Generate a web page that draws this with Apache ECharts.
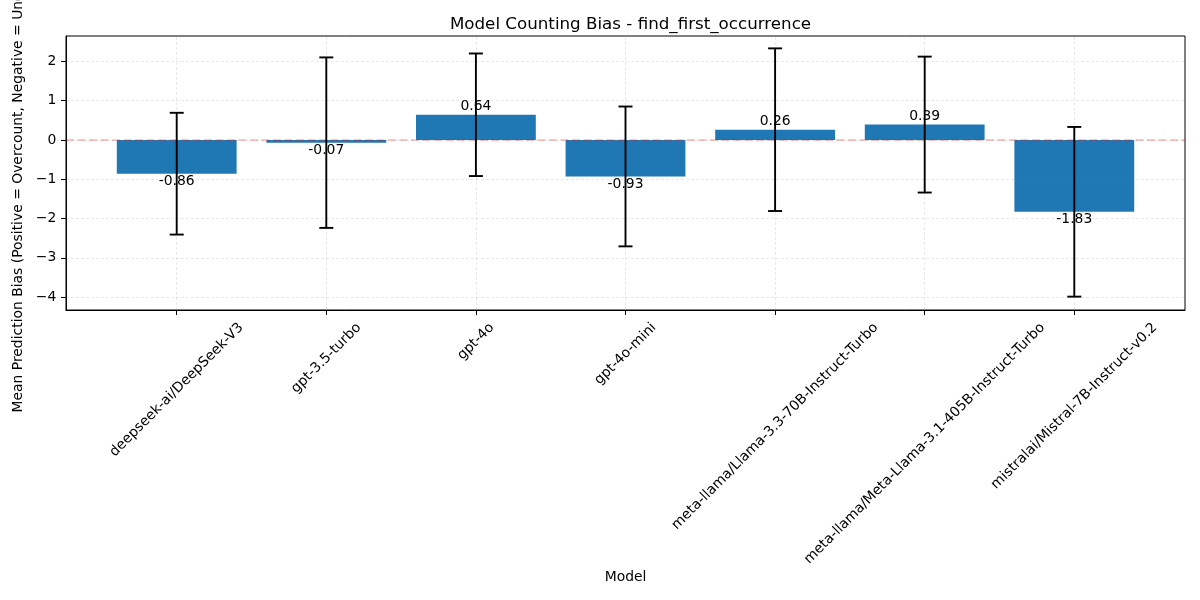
<!DOCTYPE html>
<html>
<head>
<meta charset="utf-8">
<script src="https://cdn.jsdelivr.net/npm/echarts@6/dist/echarts.min.js"></script>
<style>html,body{margin:0;padding:0;background:#fff;}#chart{width:1200px;height:600px;}</style>
</head>
<body>
<div id="chart"></div>
<script>
const categories = [
  'deepseek-ai/DeepSeek-V3',
  'gpt-3.5-turbo',
  'gpt-4o',
  'gpt-4o-mini',
  'meta-llama/Llama-3.3-70B-Instruct-Turbo',
  'meta-llama/Meta-Llama-3.1-405B-Instruct-Turbo',
  'mistralai/Mistral-7B-Instruct-v0.2'
];
const means = [-0.86, -0.07, 0.64, -0.93, 0.26, 0.39, -1.83];
const stds = [1.55, 2.17, 1.56, 1.78, 2.07, 1.73, 2.16];
const yTicks = [-4, -3, -2, -1, 0, 1, 2];
const xTicks = categories.map((c, i) => i);

const FONT = '"DejaVu Sans", sans-serif';
const X_MIN = -0.74, X_MAX = 6.74;
const Y_MIN = -4.33, Y_MAX = 2.645;
const TICK_FS = 13.9;

const measureCtx = document.createElement('canvas').getContext('2d');
measureCtx.font = TICK_FS + 'px ' + FONT;
function textWidth(t) { return measureCtx.measureText(t).width; }

const chart = echarts.init(document.getElementById('chart'), null, {renderer: 'canvas'});

const gridLineStyle = {color: 'rgba(128,128,128,0.22)', width: 0.8, type: [3, 2]};

const option = {
  animation: false,
  backgroundColor: '#fff',
  title: {
    text: 'Model Counting Bias - find_first_occurrence',
    left: 625.5,
    textAlign: 'center',
    top: 11,
    textStyle: {fontFamily: FONT, fontSize: 16.7, fontWeight: 'normal', color: '#000'}
  },
  grid: {
    left: 66, right: 15, top: 36, bottom: 290,
    show: true, borderColor: '#000', borderWidth: 1, backgroundColor: 'transparent',
    containLabel: false,
    outerBoundsMode: 'none'
  },
  xAxis: {
    type: 'value',
    min: X_MIN, max: X_MAX,
    name: 'Model',
    nameLocation: 'middle',
    nameGap: 260,
    nameTextStyle: {fontFamily: FONT, fontSize: TICK_FS, color: '#000', verticalAlign: 'top'},
    axisLine: {show: true, onZero: false, lineStyle: {color: '#000', width: 1}},
    axisTick: {show: true, length: 5, inside: false, customValues: xTicks, lineStyle: {color: '#000', width: 1}},
    axisLabel: {show: false},
    splitLine: {show: false}
  },
  yAxis: {
    type: 'value',
    min: Y_MIN, max: Y_MAX,
    name: 'Mean Prediction Bias (Positive = Overcount, Negative = Undercount)',
    nameLocation: 'middle',
    nameGap: 38,
    nameTextStyle: {fontFamily: FONT, fontSize: TICK_FS, color: '#000'},
    axisLine: {show: true, onZero: false, lineStyle: {color: '#000', width: 1}},
    axisTick: {show: true, length: 5, inside: false, customValues: yTicks, lineStyle: {color: '#000', width: 1}},
    axisLabel: {
      show: true, customValues: yTicks, margin: 9.7,
      fontFamily: FONT, fontSize: TICK_FS, color: '#000',
      formatter: v => (v < 0 ? '\u2212' + Math.abs(v) : String(v))
    },
    splitLine: {show: false}
  },
  series: [
    {
      type: 'bar',
      z: 2,
      barWidth: 119.8,
      itemStyle: {color: '#1f77b4'},
      data: categories.map((c, i) => [i, means[i]])
    },
    {
      type: 'line',
      z: 10,
      data: [],
      silent: true,
      markLine: {
        silent: true,
        symbol: 'none',
        label: {show: false},
        animation: false,
        lineStyle: gridLineStyle,
        data: xTicks.map(v => ({xAxis: v})).concat(yTicks.map(v => ({yAxis: v})))
      }
    },
    {
      type: 'line',
      z: 11,
      data: [],
      silent: true,
      markLine: {
        silent: true,
        symbol: 'none',
        label: {show: false},
        animation: false,
        lineStyle: {color: 'rgba(255,0,0,0.3)', width: 1.5, type: [8, 3.5]},
        data: [{yAxis: 0}]
      }
    },
    {
      type: 'custom',
      z: 20,
      clip: false,
      data: categories.map((c, i) => [i, means[i], stds[i]]),
      renderItem: function (params, api) {
        const i = api.value(0), m = api.value(1), s = api.value(2);
        const top = api.coord([i, m + s]);
        const bot = api.coord([i, m - s]);
        const cap = 7;
        const ls = {stroke: '#000', lineWidth: 1.9};
        return {
          type: 'group',
          children: [
            {type: 'line', shape: {x1: top[0], y1: top[1], x2: bot[0], y2: bot[1]}, style: ls},
            {type: 'line', shape: {x1: top[0] - cap, y1: top[1], x2: top[0] + cap, y2: top[1]}, style: ls},
            {type: 'line', shape: {x1: bot[0] - cap, y1: bot[1], x2: bot[0] + cap, y2: bot[1]}, style: ls}
          ]
        };
      }
    },
    {
      type: 'custom',
      z: 21,
      clip: false,
      data: categories.map((c, i) => [i, means[i]]),
      renderItem: function (params, api) {
        const i = api.value(0), m = api.value(1);
        const p = api.coord([i, m]);
        return {
          type: 'text',
          x: p[0], y: p[1] + (m >= 0 ? -1 : 1),
          style: {
            text: m.toFixed(2),
            align: 'center',
            verticalAlign: m >= 0 ? 'bottom' : 'top',
            font: TICK_FS + 'px ' + FONT,
            fill: '#000'
          }
        };
      }
    },
    {
      type: 'custom',
      z: 21,
      clip: false,
      data: categories.map((c, i) => [i, Y_MIN]),
      renderItem: function (params, api) {
        const i = api.value(0);
        const p = api.coord([i, Y_MIN]);
        const label = categories[params.dataIndex];
        const w = textWidth(label);
        const h = TICK_FS * 1.17;
        const half = (w + h) / (2 * Math.SQRT2);
        return {
          type: 'text',
          x: p[0],
          y: p[1] + 9.7 + half,
          rotation: Math.PI / 4,
          style: {
            text: label,
            align: 'center',
            verticalAlign: 'middle',
            font: TICK_FS + 'px ' + FONT,
            fill: '#000'
          }
        };
      }
    }
  ]
};
chart.setOption(option);
</script>
</body>
</html>
